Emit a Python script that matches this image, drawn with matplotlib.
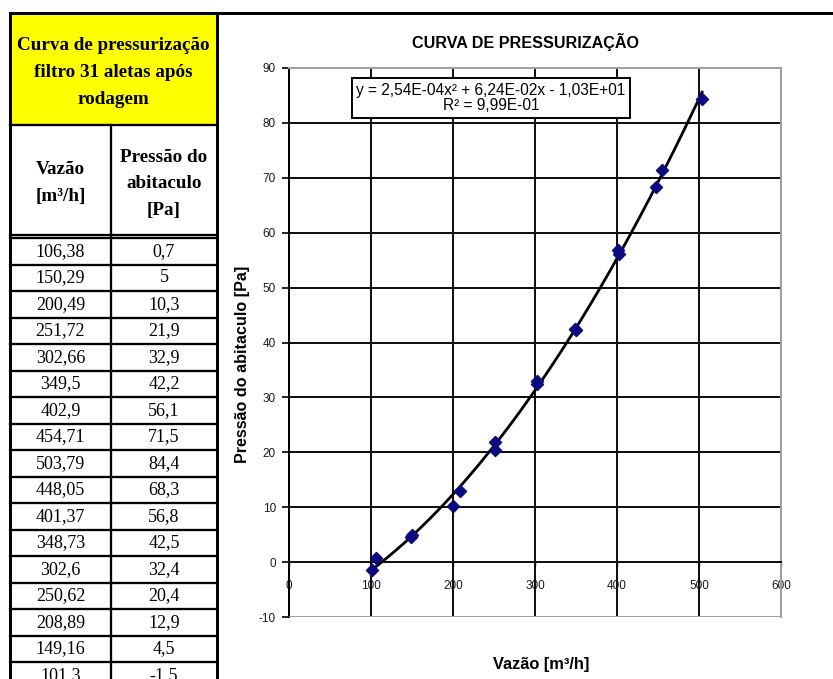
import matplotlib
matplotlib.use("Agg")
import matplotlib.pyplot as plt
from matplotlib.patches import Rectangle
import numpy as np

plt.rcParams["axes.unicode_minus"] = False

# Measured pressurization data (flow rate vs cabin pressure)
vazao = [106.38, 150.29, 200.49, 251.72, 302.66, 349.5, 402.9, 454.71, 503.79,
         448.05, 401.37, 348.73, 302.6, 250.62, 208.89, 149.16, 101.3]
pressao = [0.7, 5, 10.3, 21.9, 32.9, 42.2, 56.1, 71.5, 84.4,
           68.3, 56.8, 42.5, 32.4, 20.4, 12.9, 4.5, -1.5]

# Quadratic trendline coefficients (a*x^2 + b*x + c) and R^2
coef_a, coef_b, coef_c = 2.54e-4, 6.24e-2, -10.3
r2 = 0.999

table_title = ["Curva de pressurização", "filtro 31 aletas após", "rodagem"]
col1_header = ["Vazão", "[m³/h]"]
col2_header = ["Pressão do", "abitaculo", "[Pa]"]
chart_title = "CURVA DE PRESSURIZAÇÃO"
x_label = "Vazão [m³/h]"
y_label = "Pressão do abitaculo [Pa]"
x_ticks = [0, 100, 200, 300, 400, 500, 600]
y_ticks = [-10, 0, 10, 20, 30, 40, 50, 60, 70, 80, 90]

W, H = 833, 679
fig = plt.figure(figsize=(W / 100, H / 100), dpi=100)
fig.patch.set_facecolor("white")

# Pixel-space layer for the spreadsheet table and frame lines
bg = fig.add_axes([0, 0, 1, 1])
bg.set_xlim(0, W)
bg.set_ylim(H, 0)
bg.axis("off")

serif = "Liberation Serif"
sans = "Liberation Sans"
px = 0.72  # points per pixel at 100 dpi

tl, tm, tr = 10, 111, 217
top = 13
yellow_bottom = 125
header_bottom = 235
row0 = 238
row_h = 26.5

bg.add_patch(Rectangle((tl, top), tr - tl, yellow_bottom - top,
                       facecolor="#FFFF00", edgecolor="none", zorder=1))
lw_thick = 3 * px
lw_cell = 2.3 * px
bg.plot([tl, W], [top, top], color="black", lw=lw_thick, zorder=3)
bg.plot([tr, tr], [top, H], color="black", lw=lw_thick, zorder=3)
bg.plot([tl, tl], [top, H], color="black", lw=lw_thick, zorder=3)
bg.plot([tl, tr], [yellow_bottom, yellow_bottom], color="black", lw=lw_cell, zorder=3)
bg.plot([tm, tm], [yellow_bottom, H], color="black", lw=lw_cell, zorder=3)
bg.plot([tl, tr], [header_bottom, header_bottom], color="black", lw=lw_cell, zorder=3)
for k in range(len(vazao) + 1):
    yy = row0 + k * row_h
    bg.plot([tl, tr], [yy, yy], color="black", lw=lw_cell, zorder=3)

head_fs = 13.8
for i, line in enumerate(table_title):
    bg.text((tl + tr) / 2, 45 + i * 27.5, line, ha="center", va="center",
            fontfamily=serif, fontweight="bold", fontsize=head_fs, zorder=4)
for i, line in enumerate(col1_header):
    bg.text((tl + tm) / 2, 170 + i * 27, line, ha="center", va="center",
            fontfamily=serif, fontweight="bold", fontsize=head_fs, zorder=4)
for i, line in enumerate(col2_header):
    bg.text((tm + tr) / 2, 157 + i * 27, line, ha="center", va="center",
            fontfamily=serif, fontweight="bold", fontsize=head_fs, zorder=4)


def br(v):
    return f"{v:g}".replace(".", ",")


for i, (v, p) in enumerate(zip(vazao, pressao)):
    yc = row0 + (i + 0.5) * row_h
    bg.text((tl + tm) / 2, yc, br(v), ha="center", va="center",
            fontfamily=serif, fontsize=13, zorder=4)
    bg.text((tm + tr) / 2, yc, br(p), ha="center", va="center",
            fontfamily=serif, fontsize=13, zorder=4)

# Chart area
left, right, ptop, pbot = 289, 781, 68, 617
ax = fig.add_axes([left / W, (H - pbot) / H, (right - left) / W, (pbot - ptop) / H])
ax.set_xlim(0, 600)
ax.set_ylim(-10, 90)
ax.set_xticks(x_ticks)
ax.set_yticks(y_ticks)

ax.set_axisbelow(True)
ax.grid(True, color="#111111", lw=2 * px)

frame_grey = "#a0a0a0"
for s in ("top", "right"):
    ax.spines[s].set_color(frame_grey)
    ax.spines[s].set_linewidth(2 * px)
ax.spines["left"].set_color("black")
ax.spines["left"].set_linewidth(2 * px)
ax.spines["bottom"].set_position(("data", 0))
ax.spines["bottom"].set_color("#111111")
ax.spines["bottom"].set_linewidth(2 * px)
ax.axhline(-10, color=frame_grey, lw=2 * px, zorder=2.6)

ax.tick_params(axis="y", direction="out", length=5, width=1.2,
               pad=4.5, labelsize=8.5, labelcolor="#1a1a1a")
ax.tick_params(axis="x", direction="out", length=3, width=1.0,
               pad=10, labelsize=8.5, labelcolor="#1a1a1a")
for lab in ax.get_xticklabels() + ax.get_yticklabels():
    lab.set_fontfamily(sans)

# Trendline from the stated polynomial
xs = np.linspace(min(vazao), max(vazao), 200)
ys = coef_a * xs ** 2 + coef_b * xs + coef_c
ax.plot(xs, ys, color="black", lw=2.0, zorder=3, clip_on=False)
ax.scatter(vazao, pressao, marker="D", s=38, color="#0b0b80",
           edgecolors="#0b0b80", zorder=4, clip_on=False)


def sci(v):
    return f"{abs(v):.2E}".replace(".", ",")


eq = (f"y = {sci(coef_a)}x² + {sci(coef_b)}x "
      f"{'-' if coef_c < 0 else '+'} {sci(coef_c)}\nR² = {sci(r2)}")
fig.text(491 / W, 1 - 98 / H, eq, ha="center", va="center", fontfamily=sans,
         fontsize=11.2, linespacing=1.0,
         bbox=dict(boxstyle="square,pad=0.3", facecolor="white",
                   edgecolor="black", linewidth=1.4))

fig.text(526 / W, 1 - 42 / H, chart_title, ha="center", va="center",
         fontfamily=sans, fontweight="bold", fontsize=11.6)
fig.text(541 / W, 1 - 665 / H, x_label, ha="center", va="center",
         fontfamily=sans, fontweight="bold", fontsize=11.8)
fig.text(242 / W, 1 - 364 / H, y_label, ha="center", va="center",
         rotation=90, fontfamily=sans, fontweight="bold", fontsize=11.6)

fig.savefig("out.png", dpi=100, facecolor="white")
